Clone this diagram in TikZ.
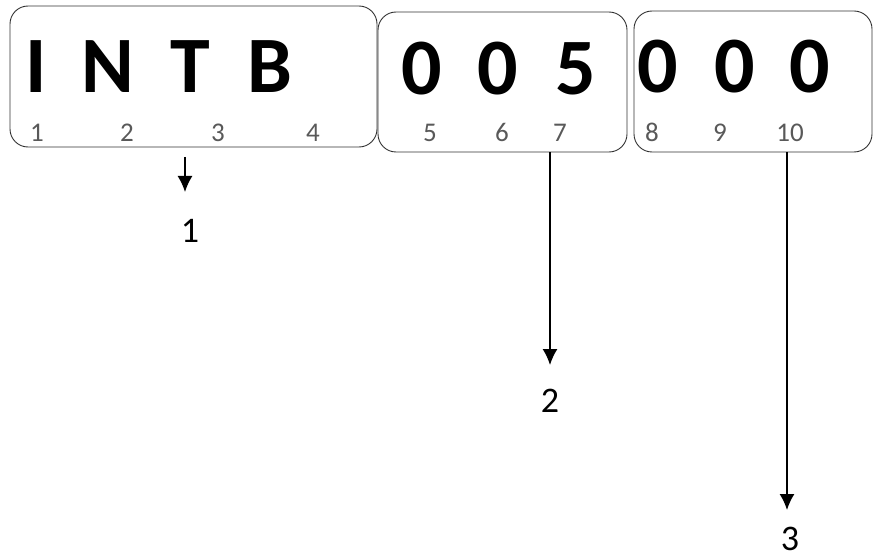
\documentclass[tikz,border=0pt]{standalone}
\usepackage{fontspec}
\setmainfont{Carlito}
\usetikzlibrary{arrows.meta}
\begin{document}
\begin{tikzpicture}[x=1pt,y=-1pt,
            field/.style={draw=black!80, rounded corners=18pt, line width=0.9pt, inner sep=0pt},
            big/.style={anchor=base, inner sep=0pt, font=\fontsize{80}{80}\selectfont\bfseries},
            idx/.style={anchor=base, inner sep=0pt, text=black!65, font=\fontsize{27}{27}\selectfont},
            part/.style={anchor=base, inner sep=0pt, font=\fontsize{36}{36}\selectfont},
            arr/.style={-{Latex[length=16pt,width=15pt]}, line width=1.5pt}]
            \useasboundingbox (0,0) rectangle (873,559);
            % the three fields
            \node[field, minimum width=367pt, minimum height=141pt] (box1) at (193.5,76.5) {};
            \node[field, minimum width=249pt, minimum height=140pt] (box2) at (502.5,82) {};
            \node[field, minimum width=238pt, minimum height=141pt] (box3) at (753,81.5) {};

            \node[big] (l1) at (36,93) {I};
            \node[big] (l2) at (108,93) {N};
            \node[big] (l3) at (190,93) {T};
            \node[big] (l4) at (270,93) {B};
            \node[big] (l5) at (422,95) {0};
            \node[big] (l6) at (498,95) {0};
            \node[big] (l7) at (576,95) {5};
            \node[big] (l8) at (658,93) {0};
            \node[big] (l9) at (735,93) {0};
            \node[big] (l10) at (810,93) {0};

            \node[idx] (p1) at (37,142) {1};
            \node[idx] (p2) at (127,142) {2};
            \node[idx] (p3) at (218,142) {3};
            \node[idx] (p4) at (313,142) {4};
            \node[idx] (p5) at (430,142) {5};
            \node[idx] (p6) at (502,142) {6};
            \node[idx] (p7) at (560,142) {7};
            \node[idx] (p8) at (652,142) {8};
            \node[idx] (p9) at (720,142) {9};
            \node[idx] (p10) at (790,142) {10};

            % arrows to the part numbers
            \node[part] (n1) at (190,242) {1};
            \node[part] (n2) at (550,412) {2};
            \node[part] (n3) at (790,550) {3};
            \coordinate (s1) at (185,157);
            \coordinate (e1) at (185,192);
            \coordinate (e2) at (550,365);
            \coordinate (e3) at (787,510);
            \draw[arr] (s1) -- (e1);
            \draw[arr] (box2.south -| e2) -- (e2);
            \draw[arr] (box3.south -| e3) -- (e3);
        \end{tikzpicture}
\end{document}
